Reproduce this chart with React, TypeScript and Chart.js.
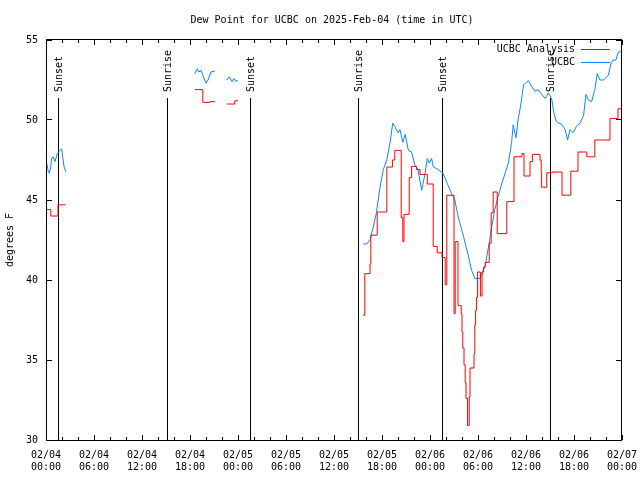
import React, { useEffect, useRef } from 'react';
import { Chart, registerables } from 'chart.js';

Chart.register(...registerables);

const FONT_FAMILY = "'DejaVu Sans Mono', 'Liberation Mono', monospace";

const chartTitle = 'Dew Point for UCBC on 2025-Feb-04 (time in UTC)';
const yAxisTitle = 'degrees F';

const xTickHours = [0, 6, 12, 18, 24, 30, 36, 42, 48, 54, 60, 66, 72];
const xTickDates = ['02/04', '02/04', '02/04', '02/04', '02/05', '02/05', '02/05', '02/05', '02/06', '02/06', '02/06', '02/06', '02/07'];
const xTickTimes = ['00:00', '06:00', '12:00', '18:00', '00:00', '06:00', '12:00', '18:00', '00:00', '06:00', '12:00', '18:00', '00:00'];
const yTicks = [30, 35, 40, 45, 50, 55];

const sunHours = [1.55, 15.17, 25.5, 39.04, 49.54, 63.04];
const sunLabels = ['Sunset', 'Sunrise', 'Sunset', 'Sunrise', 'Sunset', 'Sunrise'];

const seriesNames = ['UCBC Analysis', 'UCBC'];
const seriesColors = ['#ff0000', '#0a86ff'];

// UCBC Analysis (hours since 02/04 00:00 UTC, dew point F); each value holds until the next time; null = gap
const analysisHours = [
  0, 0.6, 1.5, 2.45, 3,
  18.6, 19.6, 20.5, 21.1, 21.5,
  22.6, 23.6, 24.0, 30,
  39.6, 39.85, 40.5, 40.6, 41.4, 42.6, 43.3, 43.6, 44.4, 44.6, 44.75, 45.4, 45.7, 46.3, 46.75, 47.66,
  48.4, 48.9, 49.5, 49.9, 50.1, 51.0, 51.15, 51.5, 51.9, 52.0, 52.1, 52.25, 52.4, 52.5, 52.7, 52.9,
  53.0, 53.5, 53.6, 53.7, 53.8, 53.95, 54.3, 54.5, 54.7, 54.9, 55.4, 55.65, 55.9, 56.4, 57.6, 58.5,
  59.5, 59.75, 60.5, 60.8, 61.75, 61.9, 61.95, 62.6, 63.3, 64.5, 65.6, 66.5, 67.6, 68.6, 70.5, 71.5, 72,
];
const analysisDewPoint = [
  44.4, 44.0, 44.7, 44.7, null,
  51.9, 51.1, 51.15, 51.15, null,
  51.0, 51.2, 51.2, null,
  37.8, 40.4, 41.0, 42.8, 44.25, 47.06, 47.5, 48.1, 43.9, 42.4, 44.1, 46.4, 47.1, 46.9, 46.6, 46.0,
  42.1, 41.7, 41.4, 39.7, 45.3, 37.9, 42.4, 38.4, 37.9, 36.75, 35.75, 34.7, 33.6, 32.6, 30.9, 32.7,
  34.5, 35.4, 37.2, 38.1, 38.9, 40.5, 39.0, 40.5, 40.8, 41.1, 42.3, 44.2, 45.5, 42.9, 44.9, 47.7,
  47.9, 46.5, 47.4, 47.85, 47.5, 46.7, 45.8, 46.7, 46.75, 45.3, 46.8, 48.0, 47.7, 48.75, 50.1, 50.7, 50.7,
];

// UCBC observations
const ucbcHours = [
  0.09, 0.29, 0.41, 0.59, 0.71, 0.91, 1.125, 1.41, 1.75, 1.96, 2.09, 2.25, 2.46, 3,
  18.6, 18.9, 19.1, 19.4, 19.6, 20.0, 20.25, 20.6, 21.1, 21.5,
  22.6, 22.9, 23.25, 23.5, 23.75, 24.0, 30,
  39.66, 40.09, 40.5, 40.9, 41.3, 41.75, 42.16, 42.6, 43.0, 43.34, 43.6, 44.0, 44.25, 44.6, 44.9,
  45.3, 45.7, 46.1, 46.5, 46.96, 47.4, 47.66, 47.9, 48.2, 48.4, 49.0, 49.6, 50.1, 50.7, 51.1, 51.5,
  52.2, 52.8, 53.2, 53.6, 54.25, 54.9, 55.4, 55.7, 56.1, 56.5, 56.96, 57.4, 57.8, 58.2, 58.4, 58.75,
  59.0, 59.3, 59.7, 60.3, 60.7, 61.1, 61.5, 61.96, 62.4, 62.8, 63.2, 63.5, 63.8, 64.5, 64.9, 65.2,
  65.5, 65.9, 66.3, 66.75, 67.2, 67.5, 67.8, 68.2, 68.6, 68.9, 69.25, 69.7, 70.3, 70.6, 70.9, 71.25,
  71.5, 71.8, 72,
];
const ucbcDewPoint = [
  47.29, 46.77, 46.67, 47.08, 47.6, 47.7, 47.4, 47.9, 48.1, 48.2, 47.7, 47.1, 46.77, null,
  52.9, 53.2, 53.0, 53.1, 52.8, 52.3, 52.5, 53.0, 53.06, null,
  52.5, 52.7, 52.4, 52.6, 52.4, 52.5, null,
  42.25, 42.25, 42.5, 43.3, 44.2, 45.8, 46.9, 47.5, 48.56, 49.8, 49.6, 49.2, 49.4, 48.6, 49.1,
  48.1, 48.0, 47.2, 46.9, 45.6, 46.7, 47.6, 47.3, 47.6, 47.1, 46.9, 46.7, 46.1, 45.4, 45.0, 44.0,
  42.7, 41.5, 40.6, 40.1, 40.1, 40.9, 42.3, 43.3, 44.4, 45.2, 46.0, 46.7, 47.3, 48.6, 49.7, 48.9,
  50.0, 50.8, 52.2, 52.46, 52.1, 51.8, 51.9, 51.6, 51.35, 51.7, 51.35, 50.4, 49.9, 49.7, 49.4, 48.75,
  49.4, 49.2, 49.6, 49.8, 50.3, 51.6, 51.25, 51.15, 51.9, 52.9, 52.5, 52.5, 52.8, 53.5, 53.75, 53.75,
  54.2, 54.3, 54.4,
];

const toPoints = (xs: number[], ys: (number | null)[]) => xs.map((x, i) => ({ x, y: ys[i] }));

const decorPlugin = {
  id: 'decor',
  beforeDatasetsDraw(chart: any) {
    const { ctx, chartArea, scales } = chart;
    const xs = scales.x;
    ctx.save();
    ctx.strokeStyle = '#000';
    ctx.fillStyle = '#000';
    ctx.lineWidth = 1;
    ctx.font = `10px ${FONT_FAMILY}`;
    sunHours.forEach((h, i) => {
      const px = Math.floor(xs.getPixelForValue(h)) + 0.5;
      ctx.beginPath();
      ctx.moveTo(px, 98);
      ctx.lineTo(px, chartArea.bottom);
      ctx.stroke();
      ctx.save();
      ctx.translate(px + 1, 92);
      ctx.rotate(-Math.PI / 2);
      ctx.textAlign = 'left';
      ctx.textBaseline = 'middle';
      ctx.fillText(sunLabels[i], 0, 0);
      ctx.restore();
    });
    ctx.restore();
  },
  afterDraw(chart: any) {
    const { ctx, chartArea, scales } = chart;
    const { left, right, top, bottom } = chartArea;
    const xs = scales.x;
    const ys = scales.y;
    ctx.save();
    ctx.strokeStyle = '#000';
    ctx.fillStyle = '#000';
    ctx.lineWidth = 1;
    ctx.strokeRect(left + 0.5, top - 0.5, right - left - 1, bottom - top + 1);
    ctx.beginPath();
    for (let h = 0; h <= 72; h += 2) {
      const len = h % 6 === 0 ? 5 : 3;
      const px = Math.floor(xs.getPixelForValue(h)) + 0.5;
      ctx.moveTo(px, bottom);
      ctx.lineTo(px, bottom - len);
      ctx.moveTo(px, top);
      ctx.lineTo(px, top + len);
    }
    yTicks.forEach((v) => {
      const py = Math.floor(ys.getPixelForValue(v)) + 0.5;
      ctx.moveTo(left + 1, py);
      ctx.lineTo(left + 6, py);
      ctx.moveTo(right - 1, py);
      ctx.lineTo(right - 6, py);
    });
    ctx.stroke();

    ctx.font = `10px ${FONT_FAMILY}`;
    ctx.textAlign = 'center';
    ctx.textBaseline = 'middle';
    ctx.fillText(chartTitle, 332, 20);
    ctx.save();
    ctx.translate(10, 240);
    ctx.rotate(-Math.PI / 2);
    ctx.fillText(yAxisTitle, 0, 0);
    ctx.restore();
    ctx.textAlign = 'right';
    seriesNames.forEach((name, i) => {
      const ly = 49 + i * 13;
      ctx.fillStyle = '#000';
      ctx.fillText(name, 575, ly);
      ctx.fillStyle = seriesColors[i];
      ctx.fillRect(581, ly, 29, 1);
    });
    ctx.restore();
  },
};

export default function App() {
  const canvasRef = useRef<HTMLCanvasElement | null>(null);

  useEffect(() => {
    if (!canvasRef.current) return;
    Chart.defaults.font.family = FONT_FAMILY;
    Chart.defaults.font.size = 10;
    Chart.defaults.color = '#000';
    const chart = new Chart(canvasRef.current, {
      type: 'line',
      data: {
        datasets: [
          {
            label: seriesNames[0],
            data: toPoints(analysisHours, analysisDewPoint) as any,
            borderColor: seriesColors[0],
            borderWidth: 1,
            pointRadius: 0,
            stepped: 'before',
            spanGaps: false,
            fill: false,
          },
          {
            label: seriesNames[1],
            data: toPoints(ucbcHours, ucbcDewPoint) as any,
            borderColor: seriesColors[1],
            borderWidth: 1,
            pointRadius: 0,
            tension: 0,
            spanGaps: false,
            fill: false,
          },
        ],
      },
      options: {
        responsive: false,
        animation: false,
        devicePixelRatio: 1,
        layout: { padding: { top: 40, right: 18, left: 0, bottom: 0 } },
        plugins: {
          legend: { display: false },
          title: { display: false },
          tooltip: { enabled: false },
        },
        scales: {
          x: {
            type: 'linear',
            min: 0,
            max: 72,
            grid: { display: false, drawTicks: false },
            border: { display: false },
            afterFit: (s: any) => { s.height = 40; s.paddingLeft = 0; s.paddingRight = 0; },
            afterBuildTicks: (s: any) => { s.ticks = xTickHours.map((v) => ({ value: v })); },
            ticks: {
              autoSkip: false,
              maxRotation: 0,
              minRotation: 0,
              padding: 9,
              font: { size: 10, family: FONT_FAMILY, lineHeight: 1.2 },
              callback: (v: any) => {
                const i = xTickHours.indexOf(Number(v));
                return i >= 0 ? [xTickDates[i], xTickTimes[i]] : '';
              },
            },
          },
          y: {
            type: 'linear',
            min: 30,
            max: 55,
            grid: { display: false, drawTicks: false },
            border: { display: false },
            afterFit: (s: any) => { s.width = 46; s.paddingTop = 0; s.paddingBottom = 0; },
            afterBuildTicks: (s: any) => { s.ticks = yTicks.map((v) => ({ value: v })); },
            ticks: {
              padding: 8,
              font: { size: 10, family: FONT_FAMILY },
            },
          },
        },
      },
      plugins: [decorPlugin],
    });
    return () => chart.destroy();
  }, []);

  return (
    <div style={{ position: 'fixed', left: 0, top: 0, width: 640, height: 480, background: '#fff' }}>
      <canvas ref={canvasRef} width={640} height={480} style={{ width: 640, height: 480 }} />
    </div>
  );
}
